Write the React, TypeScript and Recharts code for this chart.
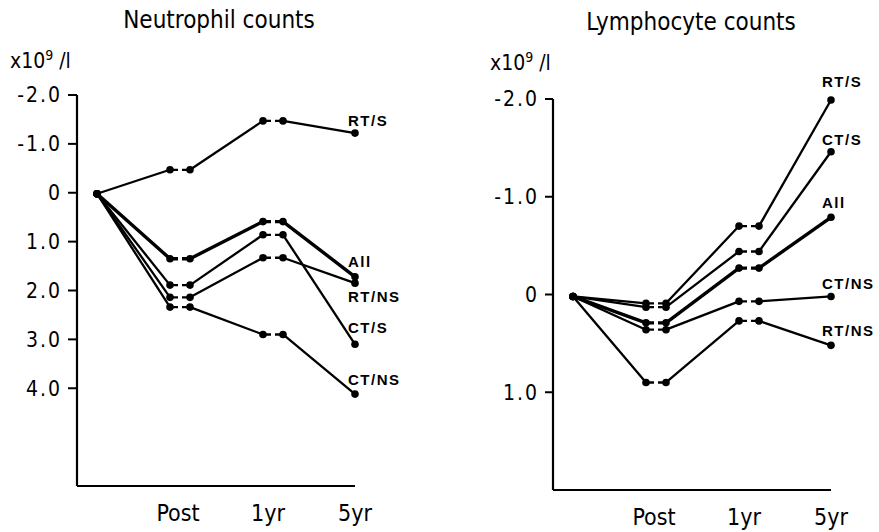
import React from 'react';
import { LineChart, Line, XAxis, YAxis } from 'recharts';

// horizontal positions of the six measurements (start, post pair, 1yr pair, 5yr)
const timePoints = [20, 93, 113, 186, 206, 278];
const xTickPositions = [101, 191, 278];
const xTickLabels = ['Post', '1yr', '5yr'];

const neutrophilTicks = [-2, -1, 0, 1, 2, 3, 4];
const lymphocyteTicks = [-2, -1, 0, 1];

// neutrophil change, x10^9/l (negative values drawn upwards)
const neutroRTS = [0.02, -0.47, -0.47, -1.47, -1.47, -1.22];
const neutroAll = [0.02, 1.35, 1.35, 0.59, 0.59, 1.72];
const neutroCTS = [0.02, 1.89, 1.89, 0.86, 0.86, 3.1];
const neutroRTNS = [0.02, 2.14, 2.14, 1.33, 1.33, 1.85];
const neutroCTNS = [0.02, 2.34, 2.34, 2.9, 2.9, 4.12];

// lymphocyte change, x10^9/l
const lymphoRTS = [0.02, 0.09, 0.09, -0.7, -0.7, -1.99];
const lymphoCTS = [0.02, 0.13, 0.13, -0.44, -0.44, -1.46];
const lymphoAll = [0.02, 0.29, 0.29, -0.27, -0.27, -0.79];
const lymphoCTNS = [0.02, 0.36, 0.36, 0.07, 0.07, 0.02];
const lymphoRTNS = [0.02, 0.9, 0.9, 0.27, 0.27, 0.52];

interface Series {
    id: string;
    name: string;
    values: number[];
    width: number;
    labelDy: number;
}

const neutrophilSeries: Series[] = [
    { id: 'rts', name: 'RT/S', values: neutroRTS, width: 2.3, labelDy: -13 },
    { id: 'all', name: 'All', values: neutroAll, width: 3.4, labelDy: -15 },
    { id: 'cts', name: 'CT/S', values: neutroCTS, width: 2.3, labelDy: -17 },
    { id: 'rtns', name: 'RT/NS', values: neutroRTNS, width: 2.3, labelDy: 13 },
    { id: 'ctns', name: 'CT/NS', values: neutroCTNS, width: 2.3, labelDy: -15 },
];

const lymphocyteSeries: Series[] = [
    { id: 'rts', name: 'RT/S', values: lymphoRTS, width: 2.3, labelDy: -18 },
    { id: 'cts', name: 'CT/S', values: lymphoCTS, width: 2.3, labelDy: -12 },
    { id: 'all', name: 'All', values: lymphoAll, width: 3.4, labelDy: -15 },
    { id: 'ctns', name: 'CT/NS', values: lymphoCTNS, width: 2.3, labelDy: -13 },
    { id: 'rtns', name: 'RT/NS', values: lymphoRTNS, width: 2.3, labelDy: -15 },
];

// solid between visits, dashed between the two points of a pair
const segments = [
    { from: 0, to: 1, dashed: false },
    { from: 1, to: 2, dashed: true },
    { from: 2, to: 3, dashed: false },
    { from: 3, to: 4, dashed: true },
    { from: 4, to: 5, dashed: false },
];

const buildRows = (series: Series[]) =>
    timePoints.map((t, i) => {
        const row: { [key: string]: number } = { t };
        series.forEach((s) => {
            segments.forEach((seg, k) => {
                if (i === seg.from || i === seg.to) row[`${s.id}_${k}`] = s.values[i];
            });
        });
        return row;
    });

const tickFont = "'DejaVu Sans Condensed', 'DejaVu Sans', sans-serif";
const labelFont = "'Liberation Sans', Arial, sans-serif";

const fmtY = (v: number) => (v === 0 ? '0' : v.toFixed(1));
const fmtX = (v: number) => xTickLabels[xTickPositions.indexOf(v)] ?? '';

interface PanelProps {
    series: Series[];
    width: number;
    height: number;
    yAxisWidth: number;
    xAxisHeight: number;
    top: number;
    right: number;
    domain: [number, number];
    ticks: number[];
    tickSize: number;
    labelDx: number;
}

const Panel: React.FC<PanelProps> = ({
    series,
    width,
    height,
    yAxisWidth,
    xAxisHeight,
    top,
    right,
    domain,
    ticks,
    tickSize,
    labelDx,
}) => {
    const rows = buildRows(series);
    return (
        <LineChart width={width} height={height} data={rows} margin={{ top, right, left: 0, bottom: 0 }}>
            <XAxis
                dataKey="t"
                type="number"
                domain={[0, 278]}
                ticks={xTickPositions}
                tickFormatter={fmtX}
                interval={0}
                height={xAxisHeight}
                tickLine={false}
                tickMargin={13}
                axisLine={{ stroke: '#000', strokeWidth: 2.2 }}
                tick={{ fontSize: 23, fill: '#000', fontFamily: tickFont }}
            />
            <YAxis
                type="number"
                domain={domain}
                reversed
                ticks={ticks}
                tickFormatter={fmtY}
                interval={0}
                width={yAxisWidth}
                tickSize={tickSize}
                tickMargin={6}
                axisLine={{ stroke: '#000', strokeWidth: 2.2 }}
                tickLine={{ stroke: '#000', strokeWidth: 2 }}
                tick={{ fontSize: 21, fill: '#000', fontFamily: tickFont, letterSpacing: 2 }}
            />
            {series.map((s) =>
                segments.map((seg, k) => (
                    <Line
                        key={`${s.id}_${k}`}
                        type="linear"
                        dataKey={`${s.id}_${k}`}
                        stroke="#000"
                        strokeWidth={s.width}
                        strokeDasharray={seg.dashed ? '8 4' : undefined}
                        dot={seg.dashed ? false : { r: 3.8, fill: '#000', stroke: '#000', strokeWidth: 0 }}
                        activeDot={false}
                        connectNulls={false}
                        isAnimationActive={false}
                        label={
                            k === segments.length - 1
                                ? (p: any) =>
                                      p.index === timePoints.length - 1 ? (
                                          <text
                                              key={`lbl_${s.id}`}
                                              x={p.x + labelDx}
                                              y={p.y + s.labelDy}
                                              dominantBaseline="central"
                                              fontFamily={labelFont}
                                              fontWeight="bold"
                                              fontSize={15}
                                              letterSpacing={1.5}
                                              fill="#000"
                                          >
                                              {s.name}
                                          </text>
                                      ) : null
                                : false
                        }
                    />
                ))
            )}
        </LineChart>
    );
};

const Unit: React.FC<{ x: number; y: number }> = ({ x, y }) => (
    <text x={x} y={y} fontFamily={tickFont} fontSize={21} fill="#000">
        x10
        <tspan dy={-8} fontSize={14}>
            9
        </tspan>
        <tspan dy={8}> /l</tspan>
    </text>
);

export default function App() {
    return (
        <div style={{ position: 'absolute', left: 0, top: 0, width: 879, height: 532, background: '#fff' }}>
            <div style={{ position: 'absolute', left: 0, top: 0 }}>
                <Panel
                    series={neutrophilSeries}
                    width={440}
                    height={532}
                    yAxisWidth={77}
                    xAxisHeight={46}
                    top={95}
                    right={85}
                    domain={[-2, 6]}
                    ticks={neutrophilTicks}
                    tickSize={9}
                    labelDx={-7}
                />
            </div>
            <div style={{ position: 'absolute', left: 440, top: 0 }}>
                <Panel
                    series={lymphocyteSeries}
                    width={439}
                    height={532}
                    yAxisWidth={113}
                    xAxisHeight={42}
                    top={99}
                    right={48}
                    domain={[-2, 2]}
                    ticks={lymphocyteTicks}
                    tickSize={8}
                    labelDx={-9}
                />
            </div>
            <svg
                width={879}
                height={532}
                style={{ position: 'absolute', left: 0, top: 0, pointerEvents: 'none' }}
            >
                <text x={219} y={28} textAnchor="middle" fontFamily={tickFont} fontSize={24} fill="#000">
                    Neutrophil counts
                </text>
                <text x={691} y={30} textAnchor="middle" fontFamily={tickFont} fontSize={24} fill="#000">
                    Lymphocyte counts
                </text>
                <Unit x={10} y={68} />
                <Unit x={490} y={70} />
            </svg>
        </div>
    );
}
